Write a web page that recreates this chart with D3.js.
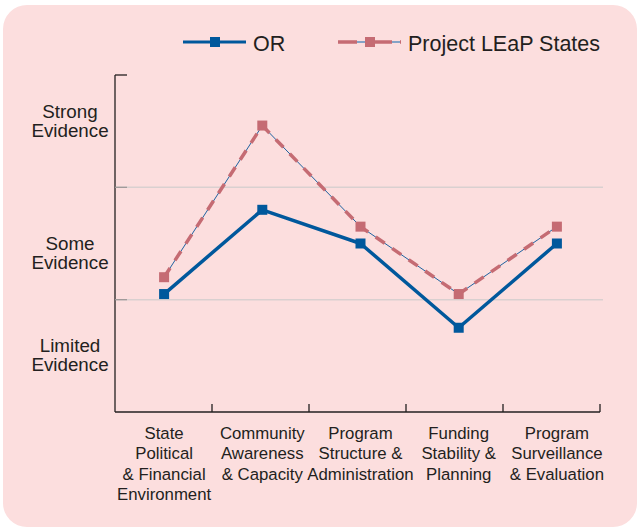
<!DOCTYPE html>
<html>
<head>
<meta charset="utf-8">
<script src="https://cdn.jsdelivr.net/npm/d3@7"></script>
<style>
  body { margin: 0; background: #fff; }
  text { font-family: "Liberation Sans", Arial, sans-serif; fill: #231f20; }
</style>
</head>
<body>
<div class="plot"></div>
<script>
// DATA
var categories = ["State Political & Financial Environment", "Community Awareness & Capacity",
  "Program Structure & Administration", "Funding Stability & Planning", "Program Surveillance & Evaluation"];
var catLines = [
  ["State", "Political", "& Financial", "Environment"],
  ["Community", "Awareness", "& Capacity"],
  ["Program", "Structure &", "Administration"],
  ["Funding", "Stability &", "Planning"],
  ["Program", "Surveillance", "& Evaluation"]
];
var orValues = [1.05, 1.8, 1.5, 0.75, 1.5];
var leapValues = [1.2, 2.55, 1.65, 1.05, 1.65];
var levelLabels = [["Limited", "Evidence"], ["Some", "Evidence"], ["Strong", "Evidence"]];
var levelPos = [0.537, 1.442, 2.615]; // where each level label starts, in axis units

var w = 637;
var h = 527;

var svg = d3.select(".plot").append("svg").attr("width", w).attr("height", h);

// background panel
svg.append("rect")
  .attr("x", 3).attr("y", 5)
  .attr("width", w - 3).attr("height", h - 5)
  .attr("rx", 24)
  .attr("fill", "#fcdede");

// SCALES
var xScale = d3.scaleBand().domain(categories).range([115, 606]);
var tickScale = d3.scaleBand().domain(categories).range([115, 600]);
var yScale = d3.scaleLinear().domain([0, 3]).range([412, 75]);

// gridlines
svg.selectAll(".grid")
  .data([1, 2])
  .enter()
  .append("line")
  .attr("class", "grid")
  .attr("x1", 115).attr("x2", 603)
  .attr("y1", function (d) { return yScale(d); })
  .attr("y2", function (d) { return yScale(d); })
  .attr("stroke", "#d9d0d0")
  .attr("stroke-width", 1.5);

// y axis
svg.append("line")
  .attr("x1", 115).attr("x2", 115)
  .attr("y1", yScale(3)).attr("y2", yScale(0))
  .attr("stroke", "#231f20").attr("stroke-width", 1.3);
svg.selectAll(".ytick")
  .data([1, 2, 3])
  .enter()
  .append("line")
  .attr("x1", 115).attr("x2", 127)
  .attr("y1", function (d) { return yScale(d); })
  .attr("y2", function (d) { return yScale(d); })
  .attr("stroke", function (d) { return d === 3 ? "#231f20" : "#a09a9a"; })
  .attr("stroke-width", 1.3);

// x axis
svg.append("line")
  .attr("x1", 115).attr("x2", 600)
  .attr("y1", yScale(0)).attr("y2", yScale(0))
  .attr("stroke", "#231f20").attr("stroke-width", 1.3);
svg.selectAll(".xtick")
  .data(categories)
  .enter()
  .append("line")
  .attr("x1", function (d) { return tickScale(d) + tickScale.bandwidth(); })
  .attr("x2", function (d) { return tickScale(d) + tickScale.bandwidth(); })
  .attr("y1", yScale(0)).attr("y2", yScale(0) - 8)
  .attr("stroke", "#231f20").attr("stroke-width", 1.3);

// x labels
var xl = svg.selectAll(".xlabel")
  .data(categories)
  .enter()
  .append("text")
  .attr("class", "xlabel")
  .attr("text-anchor", "middle")
  .attr("font-size", "16.8px")
  .attr("transform", function (d) {
    return "translate(" + (xScale(d) + xScale.bandwidth() / 2) + ",438.5)";
  });
xl.selectAll("tspan")
  .data(function (d, i) { return catLines[i]; })
  .enter()
  .append("tspan")
  .attr("x", 0)
  .attr("y", function (d, i) { return i * 20.5; })
  .text(function (d) { return d; });

// y labels
var yl = svg.selectAll(".ylabel")
  .data(levelLabels)
  .enter()
  .append("text")
  .attr("class", "ylabel")
  .attr("text-anchor", "middle")
  .attr("font-size", "18.8px")
  .attr("transform", function (d, i) {
    return "translate(70," + yScale(levelPos[i]) + ")";
  });
yl.selectAll("tspan")
  .data(function (d) { return d; })
  .enter()
  .append("tspan")
  .attr("x", 0)
  .attr("y", function (d, i) { return i * 19; })
  .text(function (d) { return d; });

// LINES
var cx = function (d, i) { return xScale(categories[i]) + xScale.bandwidth() / 2; };
var line = d3.line().x(cx).y(function (d) { return yScale(d); });

var blue = "#00589c";
var pink = "#c56b73";

// Project LEaP: thin blue under dashed pink
svg.append("path").datum(leapValues)
  .attr("d", line).attr("fill", "none")
  .attr("stroke", "#1f62a0").attr("stroke-width", 1);
svg.append("path").datum(leapValues)
  .attr("d", line).attr("fill", "none")
  .attr("stroke", pink).attr("stroke-width", 3.5)
  .attr("stroke-dasharray", "11,9");

svg.append("path").datum(orValues)
  .attr("d", line).attr("fill", "none")
  .attr("stroke", blue).attr("stroke-width", 3.5)
  .attr("stroke-linejoin", "round");

function markers(vals, color) {
  svg.append("g").selectAll("rect")
    .data(vals)
    .enter()
    .append("rect")
    .attr("x", function (d, i) { return cx(d, i) - 5; })
    .attr("y", function (d) { return yScale(d) - 5; })
    .attr("width", 10).attr("height", 10)
    .attr("fill", color);
}
markers(leapValues, pink);
markers(orValues, blue);

// LEGEND
var lg = svg.append("g");
lg.append("line").attr("x1", 183).attr("x2", 246).attr("y1", 42).attr("y2", 42)
  .attr("stroke", blue).attr("stroke-width", 3);
lg.append("rect").attr("x", 210).attr("y", 37).attr("width", 10).attr("height", 10).attr("fill", blue);
lg.append("text").attr("x", 253).attr("y", 50.5).attr("font-size", "21.5px").text("OR");

lg.append("line").attr("x1", 338).attr("x2", 401).attr("y1", 42).attr("y2", 42)
  .attr("stroke", "#5d8fbf").attr("stroke-width", 1.5);
lg.append("line").attr("x1", 338).attr("x2", 401).attr("y1", 42).attr("y2", 42)
  .attr("stroke", pink).attr("stroke-width", 3.5)
  .attr("stroke-dasharray", "19,8,27,8");
lg.append("rect").attr("x", 365).attr("y", 37).attr("width", 10).attr("height", 10).attr("fill", pink);
lg.append("text").attr("x", 408).attr("y", 50.5).attr("font-size", "21.5px").text("Project LEaP States");
</script>
</body>
</html>
